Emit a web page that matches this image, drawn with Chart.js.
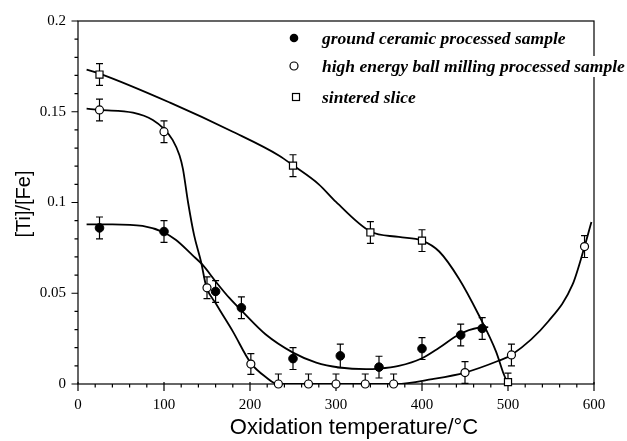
<!DOCTYPE html>
<html>
<head>
<meta charset="utf-8">
<script src="https://cdn.jsdelivr.net/npm/chart.js@4.4.1/dist/chart.umd.min.js"></script>
<style>
  body { margin: 0; background: #fff; }
  #wrap { width: 627px; height: 441px; }
</style>
</head>
<body>
<div id="wrap"><canvas id="oxChart" width="627" height="441"></canvas></div>
<script>
//Measured points
const gcTemp = [25, 100, 160, 190, 250, 305, 350, 400, 445, 470];
const gcRatio = [0.086, 0.084, 0.051, 0.042, 0.014, 0.0155, 0.0093, 0.0195, 0.027, 0.0306];
const gcErr = [0.006, 0.006, 0.006, 0.006, 0.006, 0.0065, 0.006, 0.006, 0.006, 0.006];

const heTemp = [25, 100, 150, 201, 233, 268, 300, 334, 367, 450, 504, 589];
const heRatio = [0.151, 0.139, 0.053, 0.011, 0, 0, 0, 0, 0, 0.0063, 0.016, 0.0757];
const heErr = [0.006, 0.006, 0.006, 0.0057, 0.0055, 0.0055, 0.0055, 0.0055, 0.0055, 0.006, 0.006, 0.006];

const ssTemp = [25, 250, 340, 400, 500];
const ssRatio = [0.1705, 0.1203, 0.0835, 0.079, 0.001];
const ssErr = [0.006, 0.006, 0.006, 0.006, 0.005];

//Fitted curves
const gcFitT = [10, 40, 75, 100, 114, 133, 145, 160, 176, 191, 218, 250, 277, 304, 335, 350, 373, 400, 420, 443, 466, 477];
const gcFitR = [0.088, 0.088, 0.0871, 0.0835, 0.0793, 0.071, 0.0656, 0.0565, 0.0474, 0.040, 0.0274, 0.0173, 0.0118, 0.0091, 0.0082, 0.0085, 0.010, 0.0142, 0.020, 0.0273, 0.031, 0.0313];

const heFitT = [10, 25, 64, 87, 100, 110, 118, 122, 128, 135, 143, 149, 161, 180, 201, 219, 232, 300, 370, 412, 450, 489, 504, 547, 575, 589, 597];
const heFitR = [0.1517, 0.151, 0.1495, 0.1455, 0.1405, 0.1345, 0.126, 0.1185, 0.100, 0.082, 0.0675, 0.054, 0.0438, 0.029, 0.0115, 0.0036, 0, 0, 0, 0.0027, 0.0063, 0.0128, 0.016, 0.0346, 0.0547, 0.0757, 0.0893];

const ssFitT = [10, 25, 107, 180, 234, 250, 280, 300, 340, 373, 400, 420, 443, 466, 486, 495, 500];
const ssFitR = [0.1732, 0.171, 0.155, 0.139, 0.1258, 0.1205, 0.110, 0.1003, 0.084, 0.081, 0.079, 0.073, 0.058, 0.038, 0.018, 0.0055, 0];

//Axis ticks and labels
const xTicks = [0, 100, 200, 300, 400, 500, 600];
const yTicks = [0, 0.05, 0.1, 0.15, 0.2];
const xTitle = 'Oxidation temperature/°C';
const yTitle = '[Ti]/[Fe]';
const legendLabels = ['ground ceramic processed sample', 'high energy ball milling processed sample', 'sintered slice'];

const toXY = (xs, ys) => xs.map((v, i) => ({x: v, y: ys[i]}));

//Frame, ticks, error bars
const frameTicks = {
    id: 'frameTicks',
    beforeDatasetsDraw(chart) {
        const {ctx, chartArea: a, scales: {x, y}} = chart;
        ctx.save();
        ctx.strokeStyle = '#000';
        ctx.lineWidth = 1.2;
        ctx.strokeRect(a.left, a.top, a.right - a.left, a.bottom - a.top);
        ctx.beginPath();
        for (let t = 0; t <= 600; t += 20) {
            const px = x.getPixelForValue(t);
            const major = xTicks.includes(t);
            ctx.moveTo(px, a.bottom - (major ? 2 : 0));
            ctx.lineTo(px, a.bottom + (major ? 7 : 3.5));
        }
        for (let i = 0; i <= 20; i++) {
            const py = y.getPixelForValue(i / 100);
            const major = i % 5 === 0;
            ctx.moveTo(a.left, py);
            ctx.lineTo(a.left - (major ? 6.5 : 3.5), py);
        }
        ctx.stroke();

        // error bars, clipped to the plot
        ctx.beginPath();
        ctx.rect(a.left, a.top, a.right - a.left, a.bottom - a.top);
        ctx.clip();
        ctx.lineWidth = 1.2;
        ctx.beginPath();
        chart.data.datasets.forEach(ds => {
            if (!ds.errors) return;
            ds.data.forEach((p, i) => {
                const px = x.getPixelForValue(p.x);
                const top = y.getPixelForValue(p.y + ds.errors[i]);
                const bot = y.getPixelForValue(p.y - ds.errors[i]);
                ctx.moveTo(px, top);
                ctx.lineTo(px, bot);
                ctx.moveTo(px - 3.5, top);
                ctx.lineTo(px + 3.5, top);
                ctx.moveTo(px - 3.5, bot);
                ctx.lineTo(px + 3.5, bot);
            });
        });
        ctx.stroke();
        ctx.restore();
    },
    afterDraw(chart) {
        const {ctx} = chart;
        ctx.save();
        ctx.fillStyle = '#000';
        ctx.strokeStyle = '#000';

        // axis titles
        ctx.font = '22px "Liberation Sans", Arial, sans-serif';
        ctx.textAlign = 'center';
        ctx.textBaseline = 'middle';
        ctx.fillText(xTitle, 354, 428);
        ctx.translate(24, 204);
        ctx.rotate(-Math.PI / 2);
        ctx.font = '20px "Liberation Sans", Arial, sans-serif';
        ctx.fillText(yTitle, 0, 0);
        ctx.setTransform(1, 0, 0, 1, 0, 0);

        // legend
        const rows = [38, 66, 97];
        ctx.lineWidth = 1.2;
        ctx.beginPath();
        ctx.arc(294, rows[0], 4.3, 0, Math.PI * 2);
        ctx.fill();
        ctx.beginPath();
        ctx.arc(294, rows[1], 4, 0, Math.PI * 2);
        ctx.stroke();
        ctx.strokeRect(292.5, rows[2] - 3.5, 7, 7);

        // white box behind the long row hides the frame, as in the original
        ctx.fillStyle = '#fff';
        ctx.fillRect(318, rows[1] - 10, 309, 21);
        ctx.fillStyle = '#000';

        ctx.font = 'italic bold 17.5px "Liberation Serif", "Times New Roman", serif';
        ctx.textAlign = 'left';
        ctx.textBaseline = 'alphabetic';
        legendLabels.forEach((txt, i) => {
            ctx.fillText(txt, 322, rows[i] + 6);
        });
        ctx.restore();
    }
};

const lineStyle = {
    showLine: true,
    pointRadius: 0,
    borderColor: '#000',
    borderWidth: 1.8,
    cubicInterpolationMode: 'monotone',
    fill: false,
    order: 2
};

const oxChart = new Chart(document.getElementById('oxChart'), {
    type: 'scatter',
    data: {
        datasets: [
            {data: toXY(gcTemp, gcRatio), errors: gcErr, pointStyle: 'circle', pointRadius: 4.3,
             backgroundColor: '#000', borderColor: '#000', borderWidth: 1, clip: false, order: 0},
            {data: toXY(heTemp, heRatio), errors: heErr, pointStyle: 'circle', pointRadius: 4,
             backgroundColor: '#fff', borderColor: '#000', borderWidth: 1.2, clip: false, order: 0},
            {data: toXY(ssTemp, ssRatio), errors: ssErr, pointStyle: 'rect', pointRadius: 5,
             backgroundColor: '#fff', borderColor: '#000', borderWidth: 1.2, clip: false, order: 0},
            Object.assign({data: toXY(gcFitT, gcFitR)}, lineStyle),
            Object.assign({data: toXY(heFitT, heFitR)}, lineStyle),
            Object.assign({data: toXY(ssFitT, ssFitR)}, lineStyle)
        ]
    },
    options: {
        responsive: false,
        animation: false,
        devicePixelRatio: 1,
        layout: {
            padding: {left: 0, top: 18, right: 33, bottom: 0}
        },
        scales: {
            x: {
                type: 'linear',
                min: 0,
                max: 600,
                afterFit: s => { s.height = 57; },
                afterBuildTicks: s => { s.ticks = xTicks.map(v => ({value: v})); },
                grid: {display: false, drawTicks: false},
                border: {display: false},
                ticks: {
                    color: '#000',
                    padding: 12,
                    maxRotation: 0,
                    font: {family: '"Liberation Serif", "Times New Roman", serif', size: 15}
                }
            },
            y: {
                type: 'linear',
                min: 0,
                max: 0.2,
                afterFit: s => { s.width = 78; },
                afterBuildTicks: s => { s.ticks = yTicks.map(v => ({value: v})); },
                grid: {display: false, drawTicks: false},
                border: {display: false},
                ticks: {
                    color: '#000',
                    padding: 12,
                    callback: v => String(v),
                    font: {family: '"Liberation Serif", "Times New Roman", serif', size: 15}
                }
            }
        },
        plugins: {
            legend: {display: false},
            tooltip: {enabled: false}
        }
    },
    plugins: [frameTicks]
});
</script>
</body>
</html>
